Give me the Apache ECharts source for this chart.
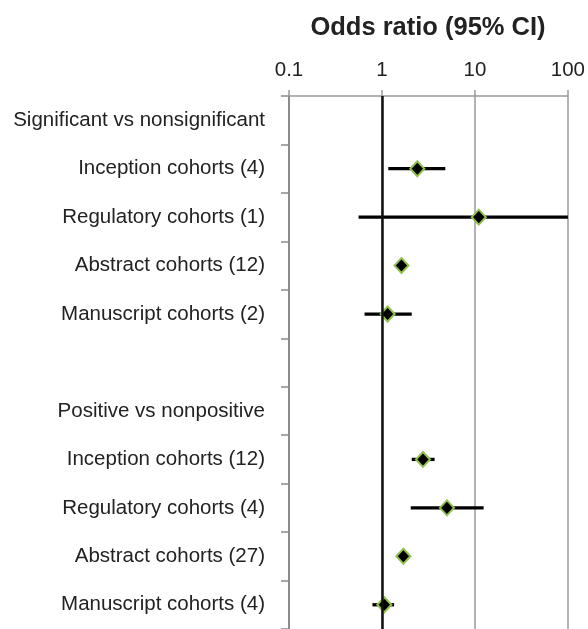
<!DOCTYPE html>
<html>
<head>
<meta charset="utf-8">
<script src="https://cdn.jsdelivr.net/npm/echarts@6/dist/echarts.min.js"></script>
<style>
  html, body { margin: 0; padding: 0; background: #fff; }
  #chart { width: 588px; height: 629px; }
</style>
</head>
<body>
<div id="chart"></div>
<script>
// rows, top to bottom (blank row separates the two groups)
const categories = [
  'Significant vs nonsignificant',
  'Inception cohorts (4)',
  'Regulatory cohorts (1)',
  'Abstract cohorts (12)',
  'Manuscript cohorts (2)',
  '',
  'Positive vs nonpositive',
  'Inception cohorts (12)',
  'Regulatory cohorts (4)',
  'Abstract cohorts (27)',
  'Manuscript cohorts (4)'
]
const oddsRatio = [null, 2.4, 11.0, 1.62, 1.15, null, null, 2.76, 5.0, 1.7, 1.06]
const ciLow = [null, 1.17, 0.56, 1.4, 0.65, null, null, 2.09, 2.04, 1.55, 0.79]
const ciHigh = [null, 4.8, 100, 1.9, 2.09, null, null, 3.68, 12.4, 1.85, 1.35]
const xTicks = [0.1, 1, 10, 100]

const fontFamily = '"Liberation Sans", Arial, sans-serif'

// 置信区间和点估计
const ciData = []
const pointData = []
categories.forEach((c, i) => {
  if (oddsRatio[i] == null) return
  ciData.push([ciLow[i], ciHigh[i], i])
  pointData.push([oddsRatio[i], i])
})

const chart = echarts.init(document.getElementById('chart'))

const option = {
  animation: false,
  backgroundColor: '#fff',
  title: {
    text: 'Odds ratio (95% CI)',
    left: 428,
    top: 15,
    padding: 0,
    textAlign: 'center',
    textStyle: {
      fontFamily,
      fontSize: 25.5,
      fontWeight: 'bold',
      color: '#222'
    }
  },
  grid: {
    left: 289,
    top: 96,
    width: 281,
    height: 536,
    containLabel: false
  },
  xAxis: {
    type: 'log',
    logBase: 10,
    position: 'top',
    min: xTicks[0],
    max: xTicks[xTicks.length - 1],
    axisLine: {
      show: true,
      lineStyle: { color: '#999', width: 1.5 }
    },
    axisTick: {
      show: true,
      length: 6,
      lineStyle: { color: '#999', width: 1.5 }
    },
    axisLabel: {
      margin: 15,
      fontFamily,
      fontSize: 20.5,
      color: '#222',
      formatter: (v) => String(v)
    },
    splitLine: {
      show: true,
      lineStyle: { color: '#9a9a9a', width: 1.5 }
    }
  },
  yAxis: {
    type: 'category',
    inverse: true,
    data: categories,
    axisLine: {
      show: true,
      lineStyle: { color: '#8a8a8a', width: 2 }
    },
    axisTick: {
      show: true,
      interval: 0,
      length: 8,
      lineStyle: { color: '#8a8a8a', width: 1.5 }
    },
    axisLabel: {
      interval: 0,
      margin: 24,
      fontFamily,
      fontSize: 20.5,
      color: '#222'
    },
    splitLine: { show: false }
  },
  series: [
    {
      name: 'CI',
      type: 'custom',
      z: 2,
      dimensions: ['low', 'high', 'row'],
      encode: { x: [0, 1], y: 2 },
      data: ciData,
      renderItem: (params, api) => {
        const row = api.value(2)
        const p1 = api.coord([api.value(0), row])
        const p2 = api.coord([api.value(1), row])
        return {
          type: 'line',
          shape: { x1: p1[0], y1: p1[1], x2: p2[0], y2: p2[1] },
          style: { stroke: '#000', lineWidth: 3.3 }
        }
      }
    },
    {
      name: 'ref',
      type: 'line',
      z: 1,
      data: [],
      markLine: {
        silent: true,
        symbol: 'none',
        label: { show: false },
        lineStyle: { color: '#111', width: 2.5, type: 'solid' },
        data: [{ xAxis: 1 }]
      }
    },
    {
      name: 'OR',
      type: 'scatter',
      z: 3,
      symbol: 'diamond',
      symbolSize: [14, 15],
      data: pointData,
      itemStyle: {
        color: '#000',
        borderColor: '#92c04e',
        borderWidth: 2,
        opacity: 1
      }
    }
  ]
}

chart.setOption(option)
</script>
</body>
</html>
